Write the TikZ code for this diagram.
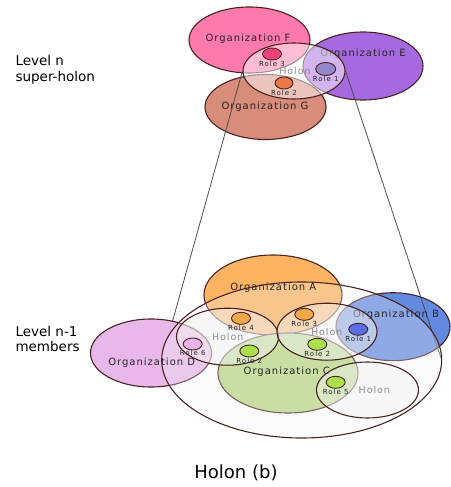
\documentclass[tikz,border=0pt]{standalone}
\usepackage{fontspec}
\setmainfont{DejaVu Sans}
\newfontfamily\orgfont[LetterSpace=10]{DejaVu Sans}
\newfontfamily\rolefont[LetterSpace=14]{DejaVu Sans}
\usetikzlibrary{shapes.geometric}
\definecolor{rim}{RGB}{74,34,34}
\definecolor{orgF}{RGB}{255,122,172}
\definecolor{orgE}{RGB}{166,106,224}
\definecolor{orgG}{RGB}{216,140,122}
\definecolor{orgA}{RGB}{252,180,98}
\definecolor{orgB}{RGB}{100,138,224}
\definecolor{orgC}{RGB}{182,214,128}
\definecolor{orgD}{RGB}{232,184,234}
\definecolor{roleF}{RGB}{236,64,122}
\definecolor{roleE}{RGB}{150,134,202}
\definecolor{roleG}{RGB}{234,120,72}
\definecolor{roleA}{RGB}{242,168,72}
\definecolor{roleB}{RGB}{88,110,228}
\definecolor{roleC}{RGB}{168,226,72}
\definecolor{roleD}{RGB}{232,180,232}
\begin{document}
\begin{tikzpicture}[x=1pt,y=-1pt,
  blob/.style={ellipse,draw=rim,line width=1.1pt,inner sep=0pt},
  holon/.style={blob,fill=gray!10,fill opacity=0.45},
  role/.style={blob,line width=0.9pt,minimum width=19pt,minimum height=12pt},
  orgtext/.style={font=\orgfont\fontsize{10}{11}\selectfont,text=black!85},
  roletext/.style={font=\rolefont\fontsize{7}{8}\selectfont,text=black!85},
  holontext/.style={font=\orgfont\fontsize{9.5}{10}\selectfont,text=black!45},
  link/.style={draw=black!70,line width=0.8pt},
  level/.style={anchor=west,align=left,font=\fontsize{13.5}{15.6}\selectfont}]
\useasboundingbox (0,0) rectangle (450,487);

% level n
\node[blob,fill=orgF,minimum width=121pt,minimum height=66pt] (orgF) at (249.5,40) {};
\node[orgtext] at (248,39) {Organization F};
\node[blob,fill=orgE,minimum width=120pt,minimum height=68pt] (orgE) at (363,66) {};
\node[orgtext] at (363,54) {Organization E};
\node[blob,fill=orgG,minimum width=121pt,minimum height=65pt] (orgG) at (265.5,107) {};
\node[orgtext] at (265,107) {Organization G};
\node[holon,fill=white,fill opacity=0.5,minimum width=102pt,minimum height=56pt] (tholon) at (294,71) {};
\node[role,fill=roleF] (r3) at (272,54) {};
\node[role,fill=roleE,minimum width=20pt,minimum height=13pt] (r1) at (325.7,69) {};
\node[role,fill=roleG,minimum width=18pt] (r2) at (284,83) {};
\node[holontext] at (295,71) {Holon};
\node[roletext] at (272,64) {Role 3};
\node[roletext] at (325.7,79) {Role 1};
\node[roletext] at (284,93) {Role 2};

% level n-1
\node[blob,fill=orgA,minimum width=138pt,minimum height=80pt] (orgA) at (273,295) {};
\node[blob,fill=orgB,minimum width=114pt,minimum height=68pt] (orgB) at (393,326.7) {};
\coordinate (bwest) at (161.7,360);
\coordinate (beast) at (441.7,360);
\draw[link] (tholon.west) -- (bwest);
\draw[link] (tholon.east) -- (beast);
\node[blob,fill=orgD,minimum width=121pt,minimum height=68pt] (orgD) at (151,353) {};
\node[blob,fill=orgC,minimum width=140pt,minimum height=80pt] (orgC) at (288,373) {};
\node[holon,fill opacity=0.3,minimum width=280pt,minimum height=156pt] (bholon) at (301.7,360) {};
\node[orgtext] at (273.3,287.7) {Organization A};
\node[orgtext] at (396,315) {Organization B};
\node[orgtext] at (151.7,362.7) {Organization D};
\node[orgtext] at (286.7,371.7) {Organization C};
\node[holon,minimum width=102pt,minimum height=57pt] (lholon) at (227.5,336.7) {};
\node[holon,minimum width=100pt,minimum height=57pt] (mholon) at (327,331.7) {};
\node[holon,minimum width=102pt,minimum height=56pt] (rholon) at (367.5,390) {};
\node[role,fill=roleA] (b4) at (241,318.3) {};
\node[role,fill=roleA] (b3) at (304.3,314.3) {};
\node[role,fill=roleB] (b1) at (358.3,329.3) {};
\node[role,fill=roleD] (b6) at (192.7,344) {};
\node[role,fill=roleC] (b2l) at (249.3,351) {};
\node[role,fill=roleC] (b2m) at (317.3,344.3) {};
\node[role,fill=roleC] (b5) at (335.7,382.3) {};
\node[holontext] at (227.7,337.3) {Holon};
\node[holontext] at (326.7,331.7) {Holon};
\node[holontext] at (374.3,390) {Holon};
\node[roletext] at (241,328) {Role 4};
\node[roletext] at (304.3,324) {Role 3};
\node[roletext] at (358.3,339) {Role 1};
\node[roletext] at (192.7,353) {Role 6};
\node[roletext] at (249.3,361) {Role 2};
\node[roletext] at (317.3,353.7) {Role 2};
\node[roletext] at (335.7,391.7) {Role 5};

% side labels
\node[level] (lvln) at (12,70) {Level n\\super-holon};
\node[level] (lvlm) at (12,339) {Level n-1\\members};
\node[font=\fontsize{18}{20}\selectfont] (title) at (236,473) {Holon (b)};
\end{tikzpicture}
\end{document}
